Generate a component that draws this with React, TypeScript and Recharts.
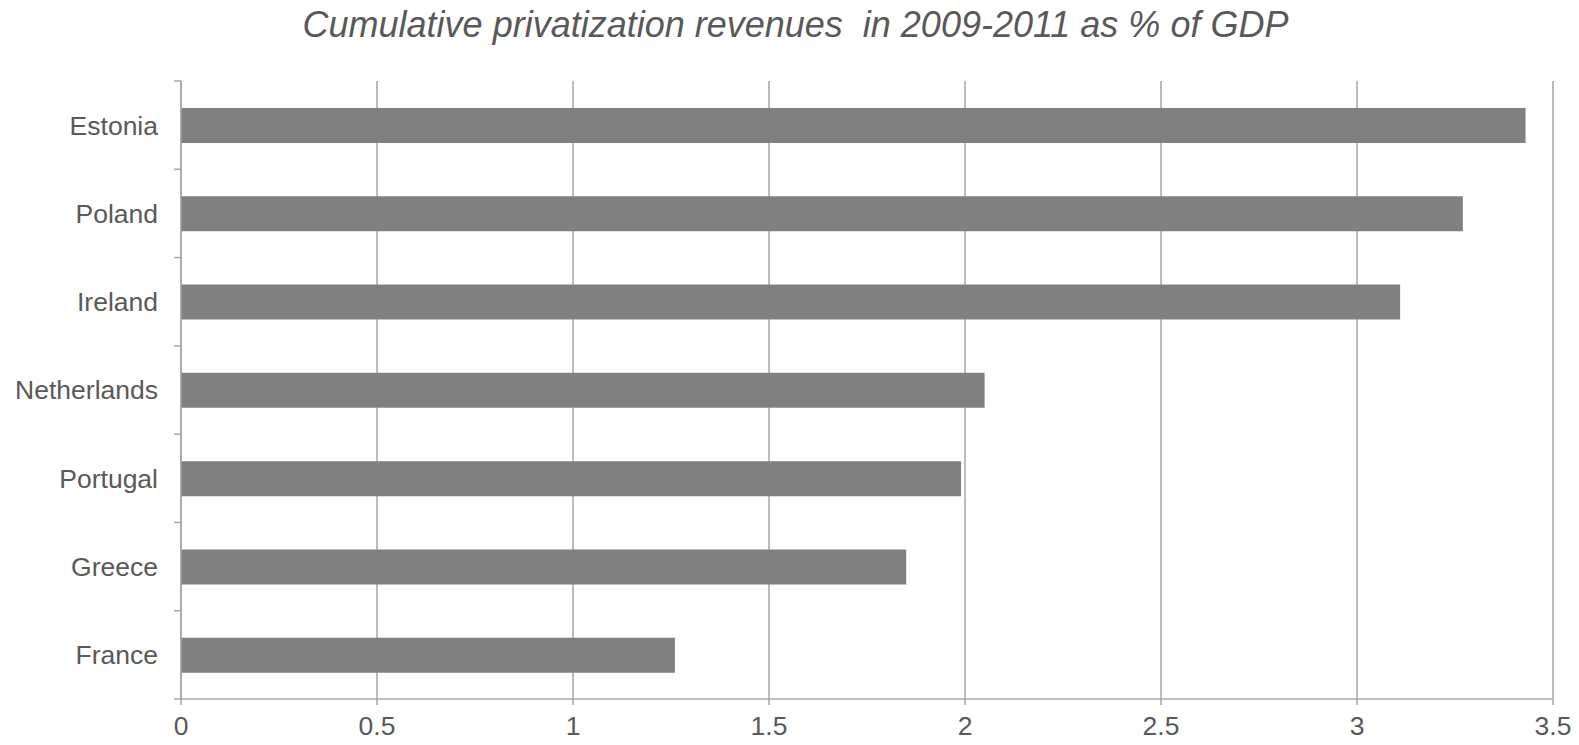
import { BarChart, Bar, XAxis, YAxis, CartesianGrid } from 'recharts'

const countries = ['Estonia', 'Poland', 'Ireland', 'Netherlands', 'Portugal', 'Greece', 'France']
const revenues = [3.43, 3.27, 3.11, 2.05, 1.99, 1.85, 1.26]
const xTicks = [0, 0.5, 1, 1.5, 2, 2.5, 3, 3.5]

const TEXT = '#595959'
const LINE = '#a6a6a6'
const FONT = '"Liberation Sans", Arial, sans-serif'
const LABEL_GAP = 23

const data = countries.map((country, i) => ({ country, value: revenues[i] }))

// country label plus short marks at the band edges (Excel style)
function CountryTick(props: any) {
  const { x, y, payload, index, visibleTicksCount } = props
  const half = payload?.offset ?? 0
  const ax = x + LABEL_GAP
  return (
    <g>
      <line x1={ax - 7} x2={ax} y1={y - half} y2={y - half} stroke={LINE} strokeWidth={1.5} />
      {index === visibleTicksCount - 1 && (
        <line x1={ax - 7} x2={ax} y1={y + half} y2={y + half} stroke={LINE} strokeWidth={1.5} />
      )}
      <text x={x} y={y} dy="0.355em" textAnchor="end" fill={TEXT} fontSize={26.5} fontFamily={FONT}>
        {payload.value}
      </text>
    </g>
  )
}

export default function App() {
  return (
    <div style={{ position: 'absolute', left: 0, top: 0, width: 1579, height: 745, background: '#fff', fontFamily: FONT }}>
      <div
        style={{
          position: 'absolute', top: 4, left: 6, width: 1579, textAlign: 'center',
          fontSize: 36, fontStyle: 'italic', color: TEXT,
        }}
      >
        Cumulative privatization revenues&nbsp; in 2009-2011 as % of GDP
      </div>
      <BarChart
        width={1579}
        height={745}
        data={data}
        layout="vertical"
        margin={{ top: 81, right: 26, left: 0, bottom: 0 }}
        barCategoryGap={0}
      >
        <CartesianGrid horizontal={false} stroke={LINE} strokeWidth={1.5} />
        <XAxis
          type="number"
          domain={[0, 3.5]}
          ticks={xTicks}
          interval={0}
          height={46}
          stroke={LINE}
          strokeWidth={1.5}
          tickSize={6}
          tickMargin={11}
          tick={{ fill: TEXT, fontSize: 26.5, fontFamily: FONT }}
        />
        <YAxis
          type="category"
          dataKey="country"
          width={181}
          stroke={LINE}
          strokeWidth={1.5}
          tickLine={false}
          tickSize={0}
          tickMargin={LABEL_GAP}
          interval={0}
          tick={CountryTick}
        />
        <Bar dataKey="value" fill="#808080" barSize={35} isAnimationActive={false} />
      </BarChart>
    </div>
  )
}
